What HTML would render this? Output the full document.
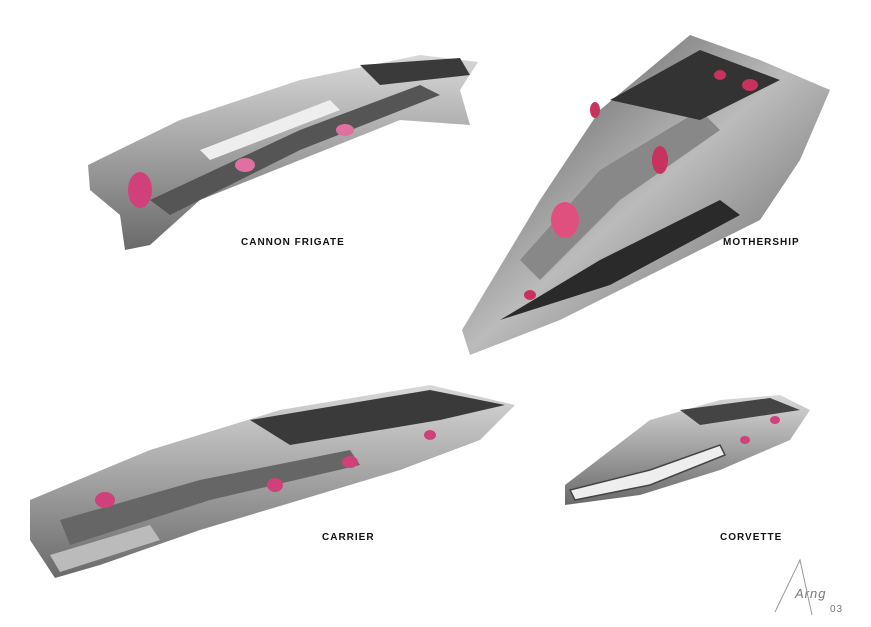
<!DOCTYPE html>
<html><head><style>
html,body{margin:0;padding:0;background:#fff;width:871px;height:627px;overflow:hidden}
svg{display:block}
text{font-family:"Liberation Sans",sans-serif;font-weight:bold;font-size:10px;letter-spacing:1px;fill:#111}
</style></head><body>
<svg width="871" height="627" viewBox="0 0 871 627" xmlns="http://www.w3.org/2000/svg">
<defs>
<linearGradient id="g1" x1="0" y1="0" x2="0" y2="1"><stop offset="0" stop-color="#d8d8d8"/><stop offset="1" stop-color="#6a6a6a"/></linearGradient>
<linearGradient id="g2" x1="0" y1="0" x2="1" y2="1"><stop offset="0" stop-color="#444"/><stop offset="0.5" stop-color="#bbb"/><stop offset="1" stop-color="#555"/></linearGradient>
</defs>
<!-- Cannon frigate -->
<polygon points="88,165 180,120 300,80 420,55 478,62 460,90 470,125 400,120 300,160 200,200 150,245 125,250 120,215 90,190" fill="url(#g1)"/>
<polygon points="150,200 300,130 420,85 440,95 300,150 170,215" fill="#555"/>
<polygon points="200,150 330,100 340,110 210,160" fill="#eee"/>
<polygon points="360,65 460,58 470,75 380,85" fill="#3a3a3a"/>
<ellipse cx="140" cy="190" rx="12" ry="18" fill="#d0407a"/>
<ellipse cx="245" cy="165" rx="10" ry="7" fill="#e070a0"/>
<ellipse cx="345" cy="130" rx="9" ry="6" fill="#e070a0"/>
<!-- Mothership -->
<polygon points="462,330 540,200 600,110 690,35 760,60 830,90 800,160 760,220 680,260 560,320 470,355" fill="url(#g2)"/>
<polygon points="520,260 600,170 700,110 720,130 620,200 540,280" fill="#888"/>
<polygon points="610,100 700,50 780,80 700,120" fill="#333"/>
<polygon points="500,320 600,260 720,200 740,215 610,285" fill="#2a2a2a"/>
<ellipse cx="565" cy="220" rx="14" ry="18" fill="#e0507f"/>
<ellipse cx="660" cy="160" rx="8" ry="14" fill="#c8325e"/>
<ellipse cx="750" cy="85" rx="8" ry="6" fill="#c8325e"/>
<ellipse cx="720" cy="75" rx="6" ry="5" fill="#c8325e"/>
<ellipse cx="530" cy="295" rx="6" ry="5" fill="#c8325e"/>
<ellipse cx="595" cy="110" rx="5" ry="8" fill="#c8325e"/>
<!-- Carrier -->
<polygon points="30,500 150,450 280,410 430,385 515,405 480,440 400,470 300,500 200,530 100,565 55,578 30,540" fill="url(#g1)"/>
<polygon points="250,420 430,390 505,405 440,420 290,445" fill="#3a3a3a"/>
<polygon points="60,520 200,480 350,450 360,465 210,500 70,545" fill="#666"/>
<polygon points="50,555 150,525 160,540 60,572" fill="#bbb"/>
<ellipse cx="105" cy="500" rx="10" ry="8" fill="#d0407a"/>
<ellipse cx="275" cy="485" rx="8" ry="7" fill="#d0407a"/>
<ellipse cx="350" cy="462" rx="8" ry="6" fill="#d0407a"/>
<ellipse cx="430" cy="435" rx="6" ry="5" fill="#d0407a"/>
<!-- Corvette -->
<polygon points="565,485 650,420 720,400 780,395 810,410 790,440 720,470 640,495 565,505" fill="url(#g1)"/>
<polygon points="570,490 650,470 720,445 725,455 650,485 575,500" fill="#eee" stroke="#444" stroke-width="1.5"/>
<polygon points="680,410 770,398 800,410 700,425" fill="#444"/>
<ellipse cx="745" cy="440" rx="5" ry="4" fill="#d0407a"/>
<ellipse cx="775" cy="420" rx="5" ry="4" fill="#d0407a"/>
<!-- Labels -->
<text x="241" y="245">CANNON FRIGATE</text>
<text x="723" y="245">MOTHERSHIP</text>
<text x="322" y="540">CARRIER</text>
<text x="720" y="540">CORVETTE</text>
<text x="795" y="598" style="font-weight:normal;font-style:italic;font-size:13px;fill:#777">Arng</text>
<text x="830" y="612" style="font-weight:normal;font-size:10px;fill:#777">03</text>
<path d="M775,612 L800,560 L812,615" stroke="#999" fill="none"/>
</svg>
</body></html>
